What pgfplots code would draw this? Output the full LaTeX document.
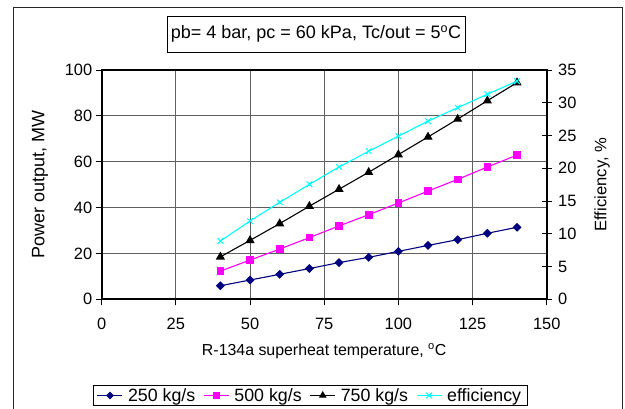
\documentclass[border=0pt]{standalone}
\usepackage{fontspec}
\setmainfont{Liberation Sans}
\usepackage{pgfplots}
\pgfplotsset{compat=1.18}
\definecolor{navy}{RGB}{0,0,128}
\definecolor{gridgray}{RGB}{96,96,96}
\definecolor{mag}{RGB}{255,0,255}
\definecolor{cyn}{RGB}{0,255,255}

\pgfplotstableread{
x p250 p500 p750 eff
40 5.9 12.3 18.5 8.9
50 8.4 17.1 25.7 11.95
60 10.9 21.9 33.0 14.8
70 13.4 26.9 40.6 17.55
80 16.0 32.0 48.0 20.2
90 18.3 36.9 55.4 22.6
100 20.9 42.0 63.1 24.9
110 23.5 47.2 70.8 27.2
120 26.0 52.3 78.6 29.25
130 28.8 57.7 86.6 31.3
140 31.4 62.9 94.5 33.3
}\data

\begin{document}
\begin{tikzpicture}[x=1pt,y=1pt]
\path[use as bounding box] (0,0) rectangle (625,409);
\draw[line width=1pt, black!85] (13,-10) rectangle (622,401);
\node[draw, line width=0.8pt, minimum width=298pt, minimum height=36pt, inner sep=0pt, font=\fontsize{18}{20}\selectfont] at (316,375) {pb= 4 bar, pc = 60 kPa, Tc/out = 5\textsuperscript{o}C};

\pgfplotsset{
  myaxis/.style={
    at={(101.7pt,109.7pt)}, anchor=south west,
    scale only axis, width=445pt, height=229.3pt,
    xmin=0, xmax=150,
    /pgf/number format/assume math mode=true,
    tick label style={font=\fontsize{16.4}{18}\selectfont},
    tick style={black, line width=0.8pt},
  },
  legend image code/.code={\draw[mark repeat=2,mark phase=2] plot coordinates {(0pt,0pt) (12.5pt,0pt) (25pt,0pt)};},
}

\begin{axis}[
  myaxis,
  ymin=0, ymax=100,
  xtick={0,25,...,150}, ytick={0,20,...,100},
  xtick pos=bottom, ytick pos=left,
  grid=major, major grid style={gridgray, line width=0.8pt},
  axis line style={line width=1.6pt},
  tick align=outside, major tick length=6pt,
  xticklabel style={yshift=-9pt},
  xlabel={R-134a superheat temperature, \textsuperscript{o}C},
  xlabel style={at={(axis description cs:0.5,-0.2255)}, anchor=center, font=\fontsize{15.9}{18}\selectfont},
  ylabel={Power output, MW},
  ylabel style={at={(axis description cs:-0.1387,0.5)}, anchor=center, font=\fontsize{18}{20}\selectfont},
]
\addplot[navy, line width=1.1pt, mark=square*, mark size=2.6pt, mark options={rotate=45}] table[x=x, y=p250] {\data};
\addplot[mag, line width=1.1pt, mark=square*, mark size=3.3pt] table[x=x, y=p500] {\data};
\addplot[black, line width=1.1pt, mark=triangle*, mark size=4.2pt] table[x=x, y=p750] {\data};
\end{axis}

\begin{axis}[
  myaxis,
  ymin=0, ymax=35, ytick={0,5,...,35},
  axis y line*=right, axis x line=none,
  axis line style={line width=1.6pt},
  tick align=center, major tick length=10pt,
  yticklabel style={xshift=3pt},
  ylabel={Efficiency, \%},
  ylabel style={at={(axis description cs:1.1243,0.5)}, anchor=center, font=\fontsize{16.6}{18}\selectfont},
  legend columns=4,
  legend style={at={(0.4681,-0.4195)}, anchor=center, draw=black, line width=0.8pt,
    font=\fontsize{17.8}{20}\selectfont, inner xsep=4pt, inner ysep=1pt,
    /tikz/every even column/.append style={column sep=6pt},
    /tikz/every odd column/.append style={column sep=3pt}},
]
\addlegendimage{navy, line width=1.1pt, mark=square*, mark size=2.2pt, mark options={rotate=45}}
\addlegendentry{250 kg/s}
\addlegendimage{mag, line width=1.1pt, mark=square*, mark size=2.6pt}
\addlegendentry{500 kg/s}
\addlegendimage{black, line width=1.1pt, mark=triangle*, mark size=3.4pt}
\addlegendentry{750 kg/s}
\addplot[cyn, line width=1.1pt, mark=x, mark size=4pt, mark options={line width=1pt}] table[x=x, y=eff] {\data};
\addlegendentry{efficiency}
\end{axis}
\end{tikzpicture}
\end{document}
